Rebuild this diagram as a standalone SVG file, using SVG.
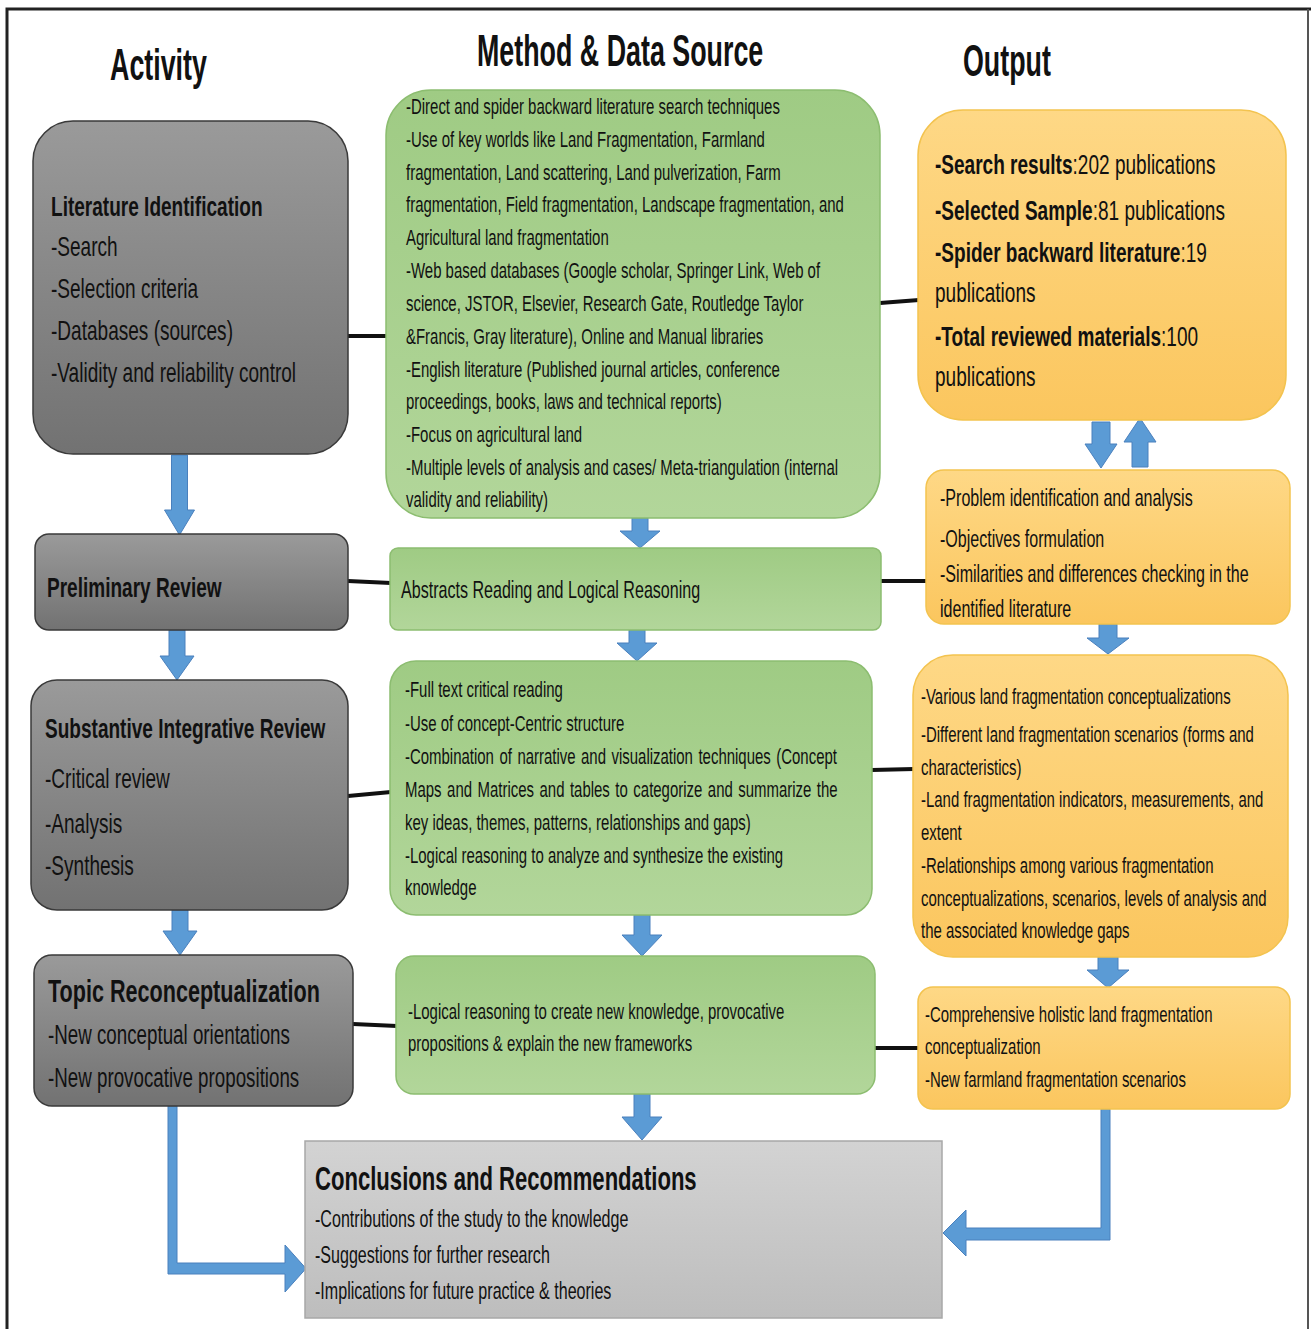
<svg xmlns="http://www.w3.org/2000/svg" width="1311" height="1329" viewBox="0 0 1311 1329">
  <defs>
    <linearGradient id="gGray" x1="0" y1="0" x2="0" y2="1">
      <stop offset="0" stop-color="#9a9a9a"/>
      <stop offset="1" stop-color="#727272"/>
    </linearGradient>
    <linearGradient id="gGreen" x1="0" y1="0" x2="0" y2="1">
      <stop offset="0" stop-color="#9fcb84"/>
      <stop offset="1" stop-color="#b2d69a"/>
    </linearGradient>
    <linearGradient id="gOrange" x1="0" y1="0" x2="0" y2="1">
      <stop offset="0" stop-color="#fed886"/>
      <stop offset="1" stop-color="#fbc65e"/>
    </linearGradient>
    <linearGradient id="gLight" x1="0" y1="0" x2="0" y2="1">
      <stop offset="0" stop-color="#d3d3d3"/>
      <stop offset="1" stop-color="#bdbdbd"/>
    </linearGradient>
    <style>
      text { font-family: "Liberation Sans", Arial, sans-serif; fill: #111; }
      .hdr { font-size: 44px; font-weight: bold; }
      .b { font-weight: bold; }
      .gray { fill: url(#gGray); stroke: #3a3a3a; stroke-width: 1.5; }
      .green { fill: url(#gGreen); stroke: #8cbd70; stroke-width: 1.5; }
      .orange { fill: url(#gOrange); stroke: #f3c34f; stroke-width: 1.5; }
      .light { fill: url(#gLight); stroke: #a8a8a8; stroke-width: 1.5; }
      .blk { fill: #5b9bd5; stroke: #4a80bd; stroke-width: 1; }
      .link { stroke: #111; stroke-width: 4; fill: none; }
      .s22 { font-size: 22px; }
      .s24 { font-size: 24px; }
      .s28 { font-size: 28px; }
    </style>
  </defs>

  <!-- page frame -->
  <path d="M7,1329 V9 H1311" fill="none" stroke="#222" stroke-width="3"/>
  <path d="M1308,9 V1329" fill="none" stroke="#555" stroke-width="2"/>

  <!-- column headings -->
  <g id="headings">
    <g transform="translate(110,0) scale(0.61,1)"><text class="hdr" x="0" y="80">Activity</text></g>
    <g transform="translate(477,0) scale(0.61,1)"><text class="hdr" x="0" y="66">Method &amp; Data Source</text></g>
    <g transform="translate(963,0) scale(0.61,1)"><text class="hdr" x="0" y="76">Output</text></g>
  </g>

  <!-- connectors -->
  <g id="connectors">
    <line class="link" x1="348" y1="336" x2="387" y2="336"/>
    <line class="link" x1="880" y1="303" x2="919" y2="300"/>
    <line class="link" x1="348" y1="581" x2="391" y2="583"/>
    <line class="link" x1="881" y1="581" x2="927" y2="581"/>
    <line class="link" x1="348" y1="796" x2="391" y2="792"/>
    <line class="link" x1="872" y1="770" x2="914" y2="769"/>
    <line class="link" x1="353" y1="1024" x2="397" y2="1026"/>
    <line class="link" x1="875" y1="1048" x2="919" y2="1048"/>

    <!-- block arrows, activity column -->
    <path class="blk" d="M171.5,455 H187.5 V510 H194.5 L179.5,535 L164.5,510 H171.5 Z"/>
    <path class="blk" d="M169,630 H185 V656 H194 L177,680 L160,656 H169 Z"/>
    <path class="blk" d="M172,910 H188 V931 H197 L180,955 L163,931 H172 Z"/>
    <!-- block arrows, method column -->
    <path class="blk" d="M632,518 H648 V531 H660 L640,548 L620,531 H632 Z"/>
    <path class="blk" d="M629,630 H645 V643 H657 L637,661 L617,643 H629 Z"/>
    <path class="blk" d="M634,915 H650 V935 H662 L642,956 L622,935 H634 Z"/>
    <path class="blk" d="M634,1094 H650 V1117 H662 L642,1140 L622,1117 H634 Z"/>
    <!-- block arrows, output column -->
    <path class="blk" d="M1092,422 H1110 V444 H1117 L1101,468 L1085,444 H1092 Z"/>
    <path class="blk" d="M1132,467 H1148 V442 H1156 L1140,418 L1124,442 H1132 Z"/>
    <path class="blk" d="M1099,624 H1117 V638 H1129 L1108,654 L1087,638 H1099 Z"/>
    <path class="blk" d="M1098,957 H1118 V970 H1129 L1108,988 L1087,970 H1098 Z"/>
    <!-- elbow arrows into conclusions -->
    <path class="blk" d="M168,1106 H177 V1263 H285 V1245 L306,1268.5 L285,1292 V1274 H168 Z"/>
    <path class="blk" d="M1101,1109 H1110 V1240 H966 V1256 L943,1233 L966,1210 V1228 H1101 Z"/>
  </g>

  <!-- activity column -->
  <g id="literature-identification">
    <rect class="gray" x="33" y="121" width="315" height="333" rx="40"/>
    <g transform="translate(51,0) scale(0.68,1)">
      <text class="s28"><tspan class="b" x="0" y="216">Literature Identification</tspan><tspan x="0" y="256">-Search</tspan><tspan x="0" y="298">-Selection criteria</tspan><tspan x="0" y="340">-Databases (sources)</tspan><tspan x="0" y="382">-Validity  and  reliability  control</tspan></text>
    </g>
  </g>

  <g id="preliminary-review">
    <rect class="gray" x="35" y="534" width="313" height="96" rx="14"/>
    <g transform="translate(47,0) scale(0.68,1)">
      <text class="s28 b" x="0" y="597">Preliminary Review</text>
    </g>
  </g>

  <g id="substantive-review">
    <rect class="gray" x="31" y="680" width="317" height="230" rx="26"/>
    <g transform="translate(45,0) scale(0.68,1)">
      <text class="s28"><tspan class="b" x="0" y="738">Substantive Integrative Review</tspan><tspan x="0" y="788">-Critical review</tspan><tspan x="0" y="833">-Analysis</tspan><tspan x="0" y="875">-Synthesis</tspan></text>
    </g>
  </g>

  <g id="topic-reconceptualization">
    <rect class="gray" x="34" y="955" width="319" height="151" rx="18"/>
    <g transform="translate(48,0) scale(0.675,1)">
      <text style="font-size:32px" class="b" x="0" y="1002">Topic Reconceptualization</text>
    </g>
    <g transform="translate(48,0) scale(0.67,1)">
      <text class="s28"><tspan x="0" y="1044">-New conceptual  orientations</tspan><tspan x="0" y="1087">-New provocative propositions</tspan></text>
    </g>
  </g>

  <!-- method and data source column -->
  <g id="search-methods">
    <rect class="green" x="386" y="90" width="494" height="428" rx="45"/>
    <g transform="translate(406,0) scale(0.68,1)">
      <text class="s22">
        <tspan x="0" y="114">-Direct and spider backward literature search techniques</tspan>
        <tspan x="0" y="147">-Use of key worlds like Land Fragmentation, Farmland</tspan>
        <tspan x="0" y="180">fragmentation, Land scattering, Land pulverization, Farm</tspan>
        <tspan x="0" y="212">fragmentation, Field fragmentation, Landscape fragmentation, and</tspan>
        <tspan x="0" y="245">Agricultural land fragmentation</tspan>
        <tspan x="0" y="278">-Web based databases (Google scholar, Springer Link, Web of</tspan>
        <tspan x="0" y="311">science, JSTOR, Elsevier, Research Gate, Routledge Taylor</tspan>
        <tspan x="0" y="344">&amp;Francis, Gray literature), Online and Manual libraries</tspan>
        <tspan x="0" y="377">-English literature (Published journal articles, conference</tspan>
        <tspan x="0" y="409">proceedings, books, laws and technical reports)</tspan>
        <tspan x="0" y="442">-Focus on agricultural land</tspan>
        <tspan x="0" y="475">-Multiple levels of analysis and cases/ Meta-triangulation (internal</tspan>
        <tspan x="0" y="507">validity and reliability)</tspan>
      </text>
    </g>
  </g>

  <g id="abstracts-reading">
    <rect class="green" x="390" y="548" width="491" height="82" rx="8"/>
    <g transform="translate(401,0) scale(0.67,1)">
      <text class="s24" x="0" y="598">Abstracts Reading and Logical Reasoning</text>
    </g>
  </g>

  <g id="full-text-reading">
    <rect class="green" x="390" y="661" width="482" height="254" rx="26"/>
    <g transform="translate(405,0) scale(0.68,1)">
      <text class="s22">
        <tspan x="0" y="697">-Full text critical reading</tspan>
        <tspan x="0" y="731">-Use of concept-Centric structure</tspan>
        <tspan x="0" y="764" word-spacing="2">-Combination  of  narrative and visualization  techniques (Concept</tspan>
        <tspan x="0" y="797" word-spacing="2">Maps and Matrices and tables  to  categorize and summarize  the</tspan>
        <tspan x="0" y="830">key ideas, themes, patterns, relationships and gaps)</tspan>
        <tspan x="0" y="863">-Logical reasoning to analyze and synthesize the existing</tspan>
        <tspan x="0" y="895">knowledge</tspan>
      </text>
    </g>
  </g>

  <g id="logical-reasoning">
    <rect class="green" x="396" y="956" width="479" height="138" rx="18"/>
    <g transform="translate(408,0) scale(0.68,1)">
      <text class="s22">
        <tspan x="0" y="1019">-Logical reasoning  to create new knowledge, provocative</tspan>
        <tspan x="0" y="1051">propositions &amp; explain the new frameworks</tspan>
      </text>
    </g>
  </g>

  <!-- output column -->
  <g id="search-results">
    <rect class="orange" x="918" y="110" width="368" height="310" rx="45"/>
    <g transform="translate(935,0) scale(0.68,1)">
      <text class="s28">
        <tspan x="0" y="174"><tspan class="b">-Search results</tspan>:202 publications</tspan>
        <tspan x="0" y="220"><tspan class="b">-Selected Sample</tspan>:81 publications</tspan>
        <tspan x="0" y="262"><tspan class="b">-Spider backward literature</tspan>:19</tspan>
        <tspan x="0" y="302">publications</tspan>
        <tspan x="0" y="346"><tspan class="b">-Total reviewed materials</tspan>:100</tspan>
        <tspan x="0" y="386">publications</tspan>
      </text>
    </g>
  </g>

  <g id="problem-identification">
    <rect class="orange" x="926" y="470" width="364" height="154" rx="18"/>
    <g transform="translate(940,0) scale(0.67,1)">
      <text class="s24">
        <tspan x="0" y="506">-Problem identification and analysis</tspan>
        <tspan x="0" y="547">-Objectives formulation</tspan>
        <tspan x="0" y="582">-Similarities and differences checking in the</tspan>
        <tspan x="0" y="617">identified literature</tspan>
      </text>
    </g>
  </g>

  <g id="fragmentation-findings">
    <rect class="orange" x="913" y="655" width="375" height="302" rx="40"/>
    <g transform="translate(921,0) scale(0.68,1)">
      <text class="s22">
        <tspan x="0" y="704">-Various land fragmentation conceptualizations</tspan>
        <tspan x="0" y="742">-Different land fragmentation scenarios (forms and</tspan>
        <tspan x="0" y="775">characteristics)</tspan>
        <tspan x="0" y="807">-Land fragmentation indicators, measurements, and</tspan>
        <tspan x="0" y="840">extent</tspan>
        <tspan x="0" y="873">-Relationships among various fragmentation</tspan>
        <tspan x="0" y="906">conceptualizations, scenarios, levels of analysis and</tspan>
        <tspan x="0" y="938">the associated knowledge gaps</tspan>
      </text>
    </g>
  </g>

  <g id="holistic-conceptualization">
    <rect class="orange" x="918" y="987" width="372" height="122" rx="15"/>
    <g transform="translate(925,0) scale(0.68,1)">
      <text class="s22">
        <tspan x="0" y="1022">-Comprehensive holistic land fragmentation</tspan>
        <tspan x="0" y="1054">conceptualization</tspan>
        <tspan x="0" y="1087">-New farmland fragmentation scenarios</tspan>
      </text>
    </g>
  </g>

  <!-- closing box -->
  <g id="conclusions">
    <rect class="light" x="305" y="1141" width="637" height="177"/>
    <g transform="translate(315,0) scale(0.65,1)">
      <text class="b" style="font-size:34px" x="0" y="1190">Conclusions and Recommendations</text>
    </g>
    <g transform="translate(315,0) scale(0.67,1)">
      <text class="s24">
        <tspan x="0" y="1227">-Contributions of the study to the knowledge</tspan>
        <tspan x="0" y="1263">-Suggestions for further research</tspan>
        <tspan x="0" y="1299">-Implications for future practice &amp; theories</tspan>
      </text>
    </g>
  </g>
</svg>
